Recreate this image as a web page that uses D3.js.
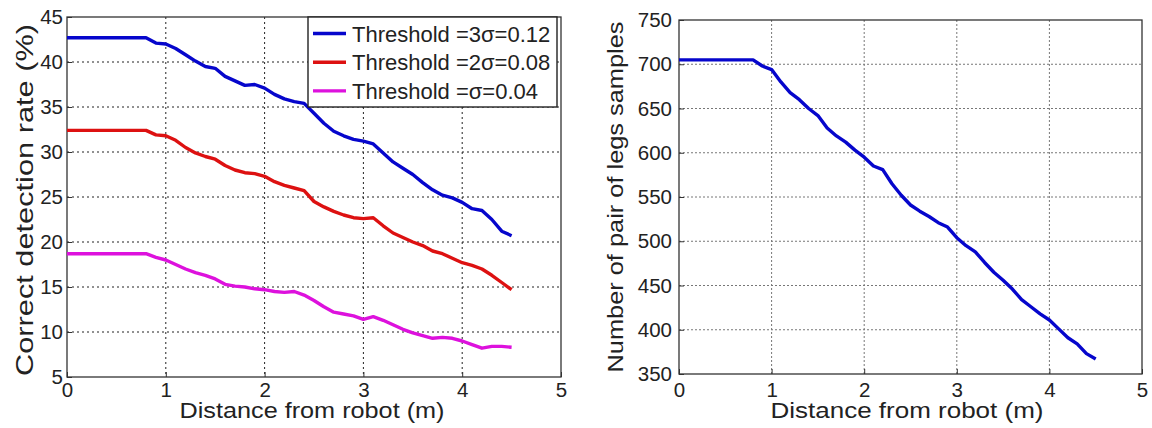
<!DOCTYPE html>
<html>
<head>
<meta charset="utf-8">
<script src="https://cdn.jsdelivr.net/npm/d3@7"></script>
<style>
  body { margin: 0; background: #fff; }
  svg { display: block; font-family: "Liberation Sans", Arial, sans-serif; }
  .grid line { stroke: #222; stroke-width: 1; stroke-dasharray: 2,3; }
  .grid2 line { stroke: #777; stroke-width: 1; stroke-dasharray: 2,2; }
  .tick text { font-size: 20.5px; fill: #222; }
</style>
</head>
<body>
<script>
var distance = [0, 0.1, 0.2, 0.3, 0.4, 0.5, 0.6, 0.7, 0.8, 0.9,
  1.0, 1.1, 1.2, 1.3, 1.4, 1.5, 1.6, 1.7, 1.8, 1.9,
  2.0, 2.1, 2.2, 2.3, 2.4, 2.5, 2.6, 2.7, 2.8, 2.9,
  3.0, 3.1, 3.2, 3.3, 3.4, 3.5, 3.6, 3.7, 3.8, 3.9,
  4.0, 4.1, 4.2, 4.3, 4.4, 4.5]

var rate3s = [42.7, 42.7, 42.7, 42.7, 42.7, 42.7, 42.7, 42.7, 42.7, 42.1,
  42.0, 41.5, 40.8, 40.1, 39.5, 39.3, 38.4, 37.9, 37.4, 37.5,
  37.1, 36.4, 35.9, 35.6, 35.4, 34.3, 33.2, 32.3, 31.8, 31.4,
  31.2, 30.9, 29.9, 28.9, 28.2, 27.5, 26.6, 25.8, 25.2, 24.9,
  24.4, 23.7, 23.5, 22.5, 21.2, 20.7]

var rate2s = [32.4, 32.4, 32.4, 32.4, 32.4, 32.4, 32.4, 32.4, 32.4, 31.9,
  31.8, 31.3, 30.5, 29.9, 29.5, 29.2, 28.5, 28.0, 27.7, 27.6,
  27.3, 26.7, 26.3, 26.0, 25.7, 24.5, 23.9, 23.4, 23.0, 22.7,
  22.6, 22.7, 21.8, 21.0, 20.5, 20.0, 19.6, 19.0, 18.7, 18.2,
  17.7, 17.4, 17.0, 16.3, 15.5, 14.7]

var rate1s = [18.7, 18.7, 18.7, 18.7, 18.7, 18.7, 18.7, 18.7, 18.7, 18.3,
  18.0, 17.5, 17.0, 16.6, 16.3, 15.9, 15.3, 15.1, 15.0, 14.8,
  14.7, 14.5, 14.4, 14.5, 14.1, 13.5, 12.8, 12.2, 12.0, 11.8,
  11.4, 11.7, 11.3, 10.8, 10.3, 9.9, 9.6, 9.3, 9.4, 9.3,
  9.0, 8.6, 8.2, 8.4, 8.4, 8.3]

var samples = [705, 705, 705, 705, 705, 705, 705, 705, 705, 698,
  694, 680, 668, 660, 650, 642, 628, 619, 612, 603,
  595, 585, 581, 565, 552, 541, 534, 528, 521, 516,
  504, 495, 488, 476, 465, 456, 446, 434, 426, 418,
  411, 401, 391, 384, 373, 367]

var xTicks = [0, 1, 2, 3, 4, 5]
var rateTicks = [5, 10, 15, 20, 25, 30, 35, 40, 45]
var sampleTicks = [350, 400, 450, 500, 550, 600, 650, 700, 750]

var legendNames = ['Threshold =3σ=0.12', 'Threshold =2σ=0.08', 'Threshold =σ=0.04']
var colors = ['#0606cc', '#dd1111', '#dd11dd']

var svg = d3.select('body')
  .append('svg')
  .attr('width', 1152)
  .attr('height', 428)

function panel(opt) {
  var x = d3.scaleLinear().domain([0, 5]).range([opt.left, opt.right])
  var y = d3.scaleLinear().domain(opt.ydom).range([opt.bottom, opt.top])
  var g = svg.append('g')

  // grid
  g.append('g').attr('class', opt.gridClass)
    .selectAll('line').data(xTicks.slice(1, -1)).enter()
    .append('line')
    .attr('x1', function(d) { return x(d) }).attr('x2', function(d) { return x(d) })
    .attr('y1', opt.top).attr('y2', opt.bottom)
  g.append('g').attr('class', opt.gridClass)
    .selectAll('line').data(opt.yticks.slice(1, -1)).enter()
    .append('line')
    .attr('y1', function(d) { return y(d) }).attr('y2', function(d) { return y(d) })
    .attr('x1', opt.left).attr('x2', opt.right)

  // axes
  var xa = g.append('g')
    .attr('transform', 'translate(0,' + opt.bottom + ')')
    .call(d3.axisBottom(x).tickValues(xTicks).tickFormat(d3.format('d')).tickSize(-5).tickPadding(opt.xpad))
  var ya = g.append('g')
    .attr('transform', 'translate(' + opt.left + ',0)')
    .call(d3.axisLeft(y).tickValues(opt.yticks).tickFormat(d3.format('d')).tickSize(-5).tickPadding(opt.ypad))
  xa.select('.domain').remove()
  ya.select('.domain').remove()
  g.selectAll('.tick line').attr('stroke', '#333')

  g.append('rect')
    .attr('x', opt.left).attr('y', opt.top)
    .attr('width', opt.right - opt.left).attr('height', opt.bottom - opt.top)
    .attr('fill', 'none').attr('stroke', '#333').attr('stroke-width', 1.3)

  var line = d3.line()
    .x(function(d) { return x(d[0]) })
    .y(function(d) { return y(d[1]) })

  opt.series.forEach(function(s, i) {
    g.append('path')
      .datum(d3.zip(distance, s))
      .attr('d', line)
      .attr('fill', 'none')
      .attr('stroke', opt.colors[i])
      .attr('stroke-width', 3.4)
      .attr('stroke-linejoin', 'round')
  })

  g.append('text')
    .attr('x', opt.xtx)
    .attr('y', 418)
    .attr('text-anchor', 'middle')
    .attr('textLength', opt.xtlen)
    .attr('lengthAdjust', 'spacingAndGlyphs')
    .style('font-size', '21.5px')
    .attr('fill', '#222')
    .text('Distance from robot (m)')

  g.append('text')
    .attr('transform', 'translate(' + opt.ytx + ',' + opt.yty + ') rotate(-90)')
    .attr('text-anchor', 'middle')
    .attr('textLength', opt.ytlen)
    .attr('lengthAdjust', 'spacingAndGlyphs')
    .style('font-size', opt.ytsize)
    .attr('fill', '#222')
    .text(opt.ytitle)

  return { g: g, x: x, y: y }
}

var left = panel({
  left: 67, right: 561, top: 17, bottom: 377,
  ydom: [5, 45], yticks: rateTicks, gridClass: 'grid', ypad: 4, xpad: 5,
  series: [rate3s, rate2s, rate1s], colors: colors,
  xtx: 312, xtlen: 265,
  ytitle: 'Correct detection rate (%)', ytx: 33, yty: 200, ytlen: 352, ytsize: '24px'
})

var right = panel({
  left: 679, right: 1142, top: 20, bottom: 374,
  ydom: [350, 750], yticks: sampleTicks, gridClass: 'grid2', ypad: 7, xpad: 8,
  series: [samples], colors: [colors[0]],
  xtx: 907, xtlen: 273,
  ytitle: 'Number of pair of legs samples', ytx: 623, yty: 197, ytlen: 351, ytsize: '22px'
})

// legend
var lg = left.g.append('g')
lg.append('rect')
  .attr('x', 308).attr('y', 17).attr('width', 249).attr('height', 90)
  .attr('fill', '#fff').attr('stroke', '#222').attr('stroke-width', 1.4)
legendNames.forEach(function(name, i) {
  var yy = 33.5 + i * 28.7
  lg.append('line')
    .attr('x1', 313).attr('x2', 346).attr('y1', yy).attr('y2', yy)
    .attr('stroke', colors[i]).attr('stroke-width', 3.4)
  lg.append('text')
    .attr('x', 352).attr('y', yy + 8)
    .style('font-size', '22px')
    .attr('fill', '#222')
    .text(name)
})
</script>
</body>
</html>
